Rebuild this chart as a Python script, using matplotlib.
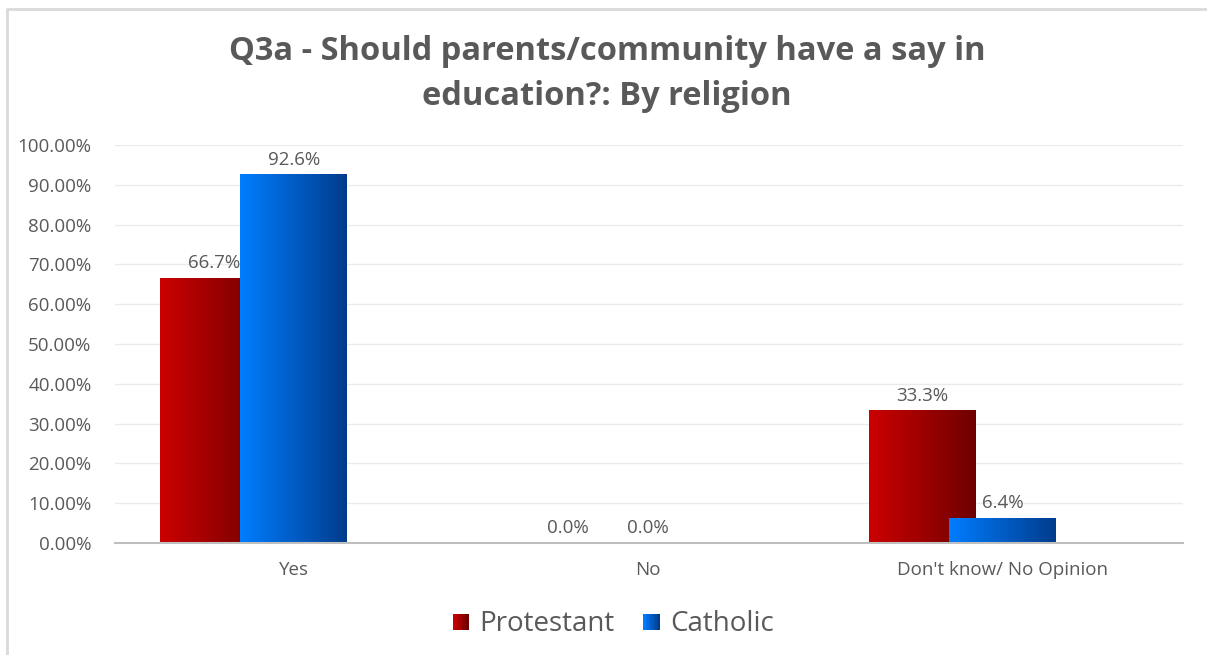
import numpy as np
import matplotlib
matplotlib.use("Agg")
import matplotlib.pyplot as plt
from matplotlib.colors import LinearSegmentedColormap
from matplotlib.legend_handler import HandlerBase
from matplotlib.patches import Rectangle
from matplotlib.lines import Line2D
from matplotlib.ticker import FuncFormatter, MultipleLocator

# ---- data ----
categories = ["Yes", "No", "Don't know/ No Opinion"]
series_names = ["Protestant", "Catholic"]
protestant = [66.7, 0.0, 33.3]
catholic = [92.6, 0.0, 6.4]
title = "Q3a - Should parents/community have a say in\neducation?: By religion"

plt.rcParams['font.family'] = ['Open Sans', 'DejaVu Sans']
TXT = "#595959"

grads = [("#CC0000", "#6E0000"), ("#007DFF", "#003C8C")]

fig = plt.figure(figsize=(12.07, 6.55), dpi=100)
ax = fig.add_axes([115/1207, 1-543/655, (1183-115)/1207, (543-145)/655])

x = np.arange(len(categories))
width = 0.302
offsets = [-0.226, 0.0]
values = [protestant, catholic]

for i, (vals, name) in enumerate(zip(values, series_names)):
    c0, c1 = grads[i]
    bars = ax.bar(x + offsets[i], vals, width, color=c0, label=name,
                  zorder=3 + i, linewidth=0)
    cmap = LinearSegmentedColormap.from_list("g%d" % i, [c0, c1])
    grad = np.linspace(0, 1, 256).reshape(1, -1)
    for b, v in zip(bars, vals):
        bx, by = b.get_x(), b.get_y()
        bw, bh = b.get_width(), b.get_height()
        if bh > 0:
            im = ax.imshow(grad, cmap=cmap, aspect='auto',
                           extent=[bx, bx + bw, by, by + bh],
                           zorder=3 + i, interpolation='bilinear')
            im.set_clip_path(b)
        ax.annotate(f"{v:.1f}%", (bx + bw / 2, by + bh), xytext=(0, 4),
                    textcoords='offset points', ha='center', va='bottom',
                    fontsize=13.5, color=TXT, zorder=10)

ax.set_xlim(-0.505, 2.51)
ax.set_ylim(0, 100)
ax.yaxis.set_major_locator(MultipleLocator(10))
ax.yaxis.set_major_formatter(FuncFormatter(lambda v, p: f"{v:.2f}%"))
ax.set_xticks(x)
ax.set_xticklabels(categories)
ax.tick_params(axis='both', length=0, labelsize=13.5, colors=TXT)
ax.tick_params(axis='x', pad=13)
ax.tick_params(axis='y', pad=17)
ax.grid(axis='y', color="#ebebeb", linewidth=1, zorder=0)
ax.set_axisbelow(True)
for s in ['top', 'right', 'left']:
    ax.spines[s].set_visible(False)
ax.spines['bottom'].set_color("#bfbfbf")
ax.spines['bottom'].set_linewidth(1.5)
ax.spines['bottom'].set_zorder(6)


class GradHandler(HandlerBase):
    def __init__(self, c0, c1):
        super().__init__()
        self.c0, self.c1 = c0, c1

    def create_artists(self, legend, orig_handle, xdescent, ydescent,
                       width, height, fontsize, trans):
        cmap = LinearSegmentedColormap.from_list("lg", [self.c0, self.c1])
        side = 11.5  # points
        n = 12
        arts = []
        x0 = -xdescent + (width - side)
        y0 = -ydescent + (height - side) / 2 - 0.5
        for k in range(n):
            r = Rectangle((x0 + side * k / n, y0),
                          side / n + 0.3, side,
                          facecolor=cmap(k / (n - 1)), edgecolor='none',
                          transform=trans)
            arts.append(r)
        return arts


handles, labels = ax.get_legend_handles_labels()
leg = fig.legend(handles, labels, loc='center', bbox_to_anchor=(613/1207, 1-624/655),
                 ncol=2, frameon=False, fontsize=20, labelcolor=TXT,
                 handlelength=0.6, handletextpad=0.4, columnspacing=1.0,
                 handler_map={handles[0]: GradHandler(*grads[0]),
                              handles[1]: GradHandler(*grads[1])})

fig.text(607/1207, 1-74/655, title, ha='center', va='center', fontsize=23.5,
         fontweight='bold', color=TXT, linespacing=1.5)

# outer chart border (top and left visible)
fig.add_artist(Line2D([7/1207, 7/1207, 1.0], [0.0, 1-8.5/655, 1-8.5/655],
                      transform=fig.transFigure, color="#d9d9d9", linewidth=2))

fig.savefig("out.png", dpi=100)
